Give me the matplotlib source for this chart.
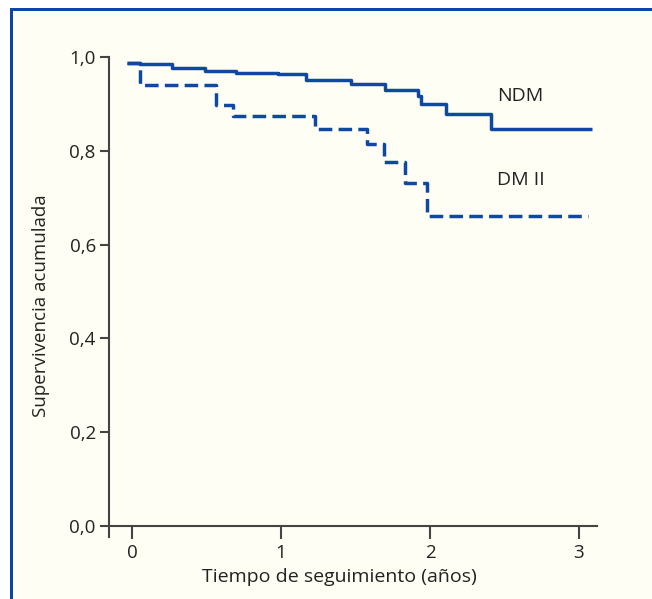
import matplotlib
matplotlib.use("Agg")
import matplotlib.pyplot as plt
from matplotlib.patches import Rectangle

# Data
ndm_t = [-0.03, 0.054, 0.266, 0.49, 0.70, 0.98, 1.17, 1.47, 1.70, 1.92, 1.94, 2.11, 2.41, 3.09]
ndm_s = [0.988, 0.985, 0.976, 0.971, 0.966, 0.963, 0.951, 0.942, 0.930, 0.917, 0.900, 0.878, 0.846, 0.846]
dm_t = [-0.03, 0.054, 0.564, 0.68, 1.228, 1.575, 1.69, 1.83, 1.98, 3.06]
dm_s = [0.988, 0.940, 0.898, 0.874, 0.847, 0.815, 0.777, 0.732, 0.661, 0.661]
xticks = [0, 1, 2, 3]
yticks = [0.0, 0.2, 0.4, 0.6, 0.8, 1.0]
ytick_labels = ["0,0", "0,2", "0,4", "0,6", "0,8", "1,0"]
series_labels = ["NDM", "DM II"]
xlabel = "Tiempo de seguimiento (años)"
ylabel = "Supervivencia acumulada"

plt.rcParams['font.family'] = ['Open Sans', 'DejaVu Sans']

W, H = 652, 599
fig = plt.figure(figsize=(W / 100, H / 100), dpi=100)
fig.patch.set_facecolor("white")

cream = "#FFFEF4"
blue = "#0B45A6"
line_blue = "#0E48A3"
axcol = "#444444"
txtcol = "#222222"

# cream panel and blue border (left + top)
fig.patches.append(Rectangle((10 / W, 0), 1 - 10 / W, 1 - 8 / H, transform=fig.transFigure,
                             facecolor=cream, edgecolor="none", zorder=-3))
fig.patches.append(Rectangle((10 / W, 0), 3 / W, 1 - 8 / H, transform=fig.transFigure,
                             facecolor=blue, edgecolor="none", zorder=-2))
fig.patches.append(Rectangle((10 / W, 1 - 11 / H), 1 - 10 / W, 3 / H, transform=fig.transFigure,
                             facecolor=blue, edgecolor="none", zorder=-2))

left, right, top, bottom = 109, 597, 57, 537
ax = fig.add_axes([left / W, 1 - bottom / H, (right - left) / W, (bottom - top) / H])
ax.set_zorder(2)
ax.set_facecolor("none")

ax.step(ndm_t, ndm_s, where="post", color=line_blue, lw=2.5, solid_capstyle="butt", clip_on=False)
ax.step(dm_t, dm_s, where="post", color=line_blue, lw=2.5, linestyle=(0, (3.9, 1.8)),
        dash_capstyle="butt", clip_on=False)

ax.set_xlim(-0.154, 3.121)
ax.set_ylim(-0.024, 1.0)

for s in ["top", "right"]:
    ax.spines[s].set_visible(False)
ax.spines["bottom"].set_position(("data", 0))
for s in ["left", "bottom"]:
    ax.spines[s].set_color(axcol)
    ax.spines[s].set_linewidth(1.5)

ax.set_xticks(xticks)
ax.set_xticklabels([str(v) for v in xticks])
ax.set_yticks(yticks)
ax.set_yticklabels(ytick_labels)
ax.tick_params(axis="x", length=9, width=1.5, color=axcol, labelsize=13.5, labelcolor=txtcol, pad=4)
ax.tick_params(axis="y", length=6.5, width=1.5, color=axcol, labelsize=13.5, labelcolor=txtcol, pad=3)

ax.set_xlabel(xlabel, fontsize=14, color=txtcol)
ax.xaxis.set_label_coords(0.473, -0.064)
ax.set_ylabel(ylabel, fontsize=13.5, color=txtcol, va="center")
ax.yaxis.set_label_coords(-0.139, 0.481)

ax.text(2.45, 0.917, series_labels[0], fontsize=14, color=txtcol, va="center", ha="left")
ax.text(2.45, 0.738, series_labels[1], fontsize=14, color=txtcol, va="center", ha="left")

fig.savefig("out.png", dpi=100, facecolor=fig.get_facecolor())
